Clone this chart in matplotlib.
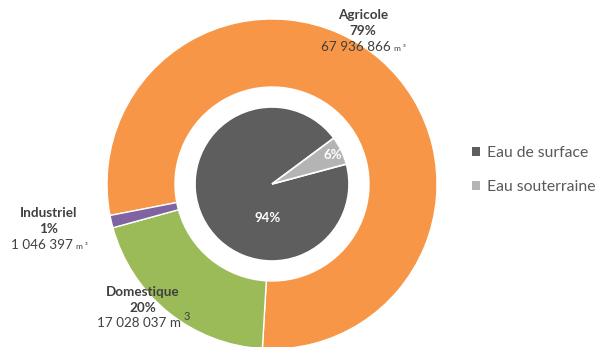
import matplotlib
matplotlib.use('Agg')
import matplotlib.pyplot as plt
from matplotlib.patches import Patch

plt.rcParams['font.family'] = ['Lato', 'DejaVu Sans']

# usages (anneau extérieur), volumes en m3
usages = ['Agricole', 'Domestique', 'Industriel']
volumes = [67936866, 17028037, 1046397]
couleurs_usages = ['#F79646', '#9BBB59', '#8064A2']

# origine de l'eau (camembert intérieur), en %
origines = ['Eau de surface', 'Eau souterraine']
parts = [94, 6]
couleurs_origines = ['#5E5E5E', '#B4B4B4']

W, H = 600, 347
fig = plt.figure(figsize=(W / 100, H / 100), dpi=100)
ax = fig.add_axes([0, 0, 1, 1])
ax.set_xlim(0, W)
ax.set_ylim(0, H)
ax.set_aspect('equal')
ax.axis('off')

centre = (272, H - 184)
r_ext = 165
r_trou = 97
r_int = 77

ax.pie(volumes, colors=couleurs_usages, radius=r_ext, center=centre,
       startangle=191, counterclock=False,
       wedgeprops=dict(width=r_ext - r_trou, edgecolor='white', linewidth=1))
ax.pie(parts, colors=couleurs_origines, radius=r_int, center=centre,
       startangle=15, counterclock=False,
       wedgeprops=dict(edgecolor='white', linewidth=1.2))
ax.set_xlim(0, W)
ax.set_ylim(0, H)

gris = '#404040'
total = sum(volumes)
# position (x, y pixel) du bloc de libellé de chaque usage
pos_labels = {'Agricole': (363, 15), 'Domestique': (143, 292), 'Industriel': (49, 213)}
for nom, v in zip(usages, volumes):
    x, y = pos_labels[nom]
    pct = round(100 * v / total)
    nombre = f"{v:,}".replace(",", " ")
    ax.text(x, H - y, nom, ha='center', va='center', fontsize=9.7,
            fontweight='bold', color=gris)
    ax.text(x, H - y - 16, f"{pct}%", ha='center', va='center', fontsize=9.7,
            fontweight='bold', color=gris)
    if nom == 'Domestique':
        t = ax.text(x - 4, H - y - 31, nombre + " m", ha='center', va='center',
                    fontsize=9.7, color=gris)
        ax.annotate("3", xy=(1, 0.55), xycoords=t, xytext=(2, 0),
                    textcoords='offset points', ha='left', va='bottom',
                    fontsize=8, color=gris)
    else:
        t = ax.text(x - 7, H - y - 32, nombre, ha='center', va='center',
                    fontsize=9.7, color=gris)
        ax.annotate("m ³", xy=(1, 0.1), xycoords=t, xytext=(2, 0),
                    textcoords='offset points', ha='left', va='bottom',
                    fontsize=6, color=gris)

# pourcentages du camembert intérieur
pos_pct = [(268, 218), (333, 155)]
for p, (x, y) in zip(parts, pos_pct):
    ax.text(x, H - y, f"{p}%", ha='center', va='center', fontsize=9.5,
            fontweight='bold', color='white')

handles = [Patch(facecolor=c, edgecolor='none') for c in couleurs_origines]
leg = ax.legend(handles, origines, loc='center left',
                bbox_to_anchor=(458 / W, 1 - 170 / H), frameon=False,
                handlelength=0.5, handleheight=0.5, handletextpad=0.45,
                labelspacing=1.25, prop=dict(size=11.3))
for txt in leg.get_texts():
    txt.set_color('#595959')

fig.savefig('out.png', dpi=100)
